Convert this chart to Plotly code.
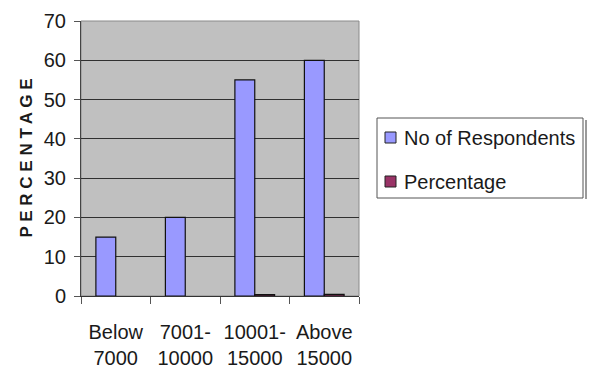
import plotly.graph_objects as go

# Income groups and survey results
categories = ["Below<br>7000", "7001-<br>10000", "10001-<br>15000", "Above<br>15000"]
respondents = [15, 20, 55, 60]
percentage = [0, 0, 0.37, 0.40]

y_ticks = [0, 10, 20, 30, 40, 50, 60, 70]

series_names = ["No of Respondents", "Percentage"]
series_colors = ["#9999FF", "#993366"]

FONT = "Liberation Sans, Arial, sans-serif"
TEXT = "#1a1a1a"

W, H = 592, 379
L, R, T, B = 81, 233, 21, 83
PW, PH = W - L - R, H - T - B


def px_x(p):
    return (p - L) / PW


def px_y(p):
    return (H - B - p) / PH


fig = go.Figure()
fig.add_trace(go.Bar(
    x=categories, y=respondents, name=series_names[0],
    marker=dict(color=series_colors[0], line=dict(color="#111111", width=1.2)),
))
fig.add_trace(go.Bar(
    x=categories, y=percentage, name=series_names[1],
    marker=dict(color=series_colors[1],
                line=dict(color="#111111",
                          width=[1.2 if v > 0 else 0 for v in percentage])),
))

shapes = [
    # light frame around the plot area
    dict(type="rect", xref="paper", yref="paper", x0=0, x1=1, y0=0, y1=1,
         line=dict(color="#8a8a8a", width=1), layer="below"),
    # legend box and its shadow
    dict(type="line", xref="paper", yref="paper",
         x0=px_x(586), x1=px_x(586), y0=px_y(120), y1=px_y(199),
         line=dict(color="#9a9a9a", width=2)),
    dict(type="rect", xref="paper", yref="paper",
         x0=px_x(377), x1=px_x(583), y0=px_y(198), y1=px_y(118),
         line=dict(color="#555555", width=1), fillcolor="white"),
]
annotations = []
for i, (name, col) in enumerate(zip(series_names, series_colors)):
    cy = 137.5 + i * 44
    shapes.append(dict(type="rect", xref="paper", yref="paper",
                       x0=px_x(385), x1=px_x(396), y0=px_y(cy + 5.5), y1=px_y(cy - 5.5),
                       line=dict(color="#222222", width=1), fillcolor=col))
    annotations.append(dict(xref="paper", yref="paper", x=px_x(402), y=px_y(cy),
                            xanchor="left", yanchor="middle", showarrow=False,
                            text=name, font=dict(family=FONT, size=20, color=TEXT)))

# rotated axis title, letter-spaced
annotations.append(dict(
    xref="paper", yref="paper", x=px_x(26), y=px_y(158.5), xanchor="center", yanchor="middle",
    showarrow=False, textangle=-90,
    text="P E R C E N T A G E",
    font=dict(family=FONT, size=17, color=TEXT, weight="bold"),
))

fig.update_layout(
    width=W, height=H,
    margin=dict(l=L, r=R, t=T, b=B),
    paper_bgcolor="white",
    plot_bgcolor="#C0C0C0",
    barmode="group",
    bargap=0.4286,
    bargroupgap=0,
    font=dict(family=FONT, size=20, color=TEXT),
    showlegend=False,
    shapes=shapes,
    annotations=annotations,
    xaxis=dict(
        automargin=False, tickangle=0,
        showgrid=False, ticks="outside", tickson="boundaries",
        ticklen=7, tickcolor="#555555", tickwidth=1,
        showline=True, linecolor="#333333", linewidth=1,
        tickfont=dict(family=FONT, size=20, color=TEXT),
        ticklabelstandoff=18,
    ),
    yaxis=dict(
        automargin=False,
        range=[0, 70], tickvals=y_ticks,
        showgrid=True, gridcolor="#303030", gridwidth=1,
        ticks="outside", ticklen=6, tickcolor="#555555",
        showline=True, linecolor="#444444", linewidth=1,
        zeroline=False,
        tickfont=dict(family=FONT, size=20, color=TEXT),
        ticklabelstandoff=4,
    ),
)

fig.write_html("out.html")
